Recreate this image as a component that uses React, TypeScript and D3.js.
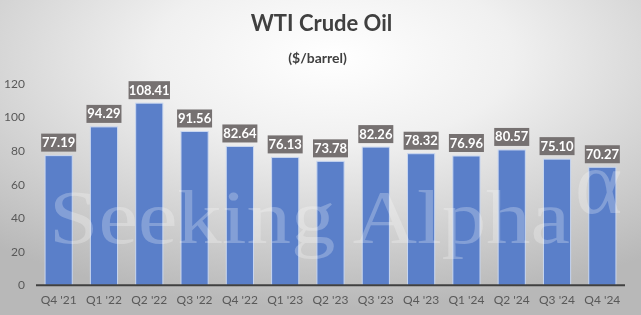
import React from "react";
import * as d3 from "d3";

const categories = ["Q4 '21", "Q1 '22", "Q2 '22", "Q3 '22", "Q4 '22", "Q1 '23", "Q2 '23", "Q3 '23", "Q4 '23", "Q1 '24", "Q2 '24", "Q3 '24", "Q4 '24"];
const prices = [77.19, 94.29, 108.41, 91.56, 82.64, 76.13, 73.78, 82.26, 78.32, 76.96, 80.57, 75.10, 70.27];
const yTicks = [0, 20, 40, 60, 80, 100, 120];

const W = 641;
const H = 315;
const FONT = "Lato, 'Open Sans', sans-serif";

export default function App() {
  const x = d3.scaleBand<string>().domain(categories).range([36, 625]).paddingInner(0.4).paddingOuter(0.2);
  const y = d3.scaleLinear().domain([0, 120]).range([285.3, 83.7]);
  const bw = x.bandwidth();

  return (
    <div style={{ position: "fixed", left: 0, top: 0 }}>
      <svg width={W} height={H} style={{ display: "block" }}>
        <defs>
          <radialGradient id="bg" cx="52%" cy="18%" r="80%" fx="52%" fy="18%">
            <stop offset="0" stopColor="#ffffff" />
            <stop offset="0.35" stopColor="#f0f0f0" />
            <stop offset="1" stopColor="#b8b8b8" />
          </radialGradient>
        </defs>
        <rect x={0} y={0} width={W} height={H} fill="url(#bg)" />
        <text x={W / 2 + 1} y={31} textAnchor="middle" fontFamily={FONT} fontWeight={700} fontSize={22} fill="#404040">
          WTI Crude Oil
        </text>
        <text x={W / 2 - 3} y={63} textAnchor="middle" fontFamily={FONT} fontWeight={700} fontSize={14} fill="#404040">
          ($/barrel)
        </text>
        {yTicks.map((t) => (
          <text key={t} x={25} y={y(t) + 4} textAnchor="end" fontFamily={FONT} fontSize={12} fill="#595959">
            {t}
          </text>
        ))}
        {categories.map((c, i) => (
          <rect
            key={c}
            x={x(c)!}
            y={y(prices[i])}
            width={bw}
            height={y(0) - y(prices[i])}
            fill="#5a7fc9"
            stroke="#c9d7f0"
            strokeWidth={1}
          />
        ))}
        <line x1={36} x2={625} y1={y(0)} y2={y(0)} stroke="#404040" strokeWidth={2} />
        {categories.map((c) => (
          <text key={c} x={x(c)! + bw / 2} y={304} textAnchor="middle" fontFamily={FONT} fontSize={12} fill="#595959">
            {c}
          </text>
        ))}
        {categories.map((c, i) => {
          const label = prices[i].toFixed(2);
          const w = label.length * 6.4 + 3;
          const cx = x(c)! + bw / 2;
          const top = y(prices[i]) - 4 - 18;
          return (
            <g key={c}>
              <rect x={cx - w / 2} y={top} width={w} height={18} fill="#767171" />
              <text x={cx} y={top + 13.5} textAnchor="middle" fontFamily={FONT} fontWeight={700} fontSize={13} fill="#ffffff">
                {label}
              </text>
            </g>
          );
        })}
        <text x={49} y={243} fontFamily="'Liberation Serif', 'DejaVu Serif', serif" fontSize={76} fill="#ffffff" fillOpacity={0.25} textLength={521} lengthAdjust="spacingAndGlyphs">
          Seeking Alpha
        </text>
        <text x={575} y={213} fontFamily="'Liberation Serif', 'DejaVu Serif', serif" fontSize={90} fill="#ffffff" fillOpacity={0.25}>
          α
        </text>
      </svg>
    </div>
  );
}
